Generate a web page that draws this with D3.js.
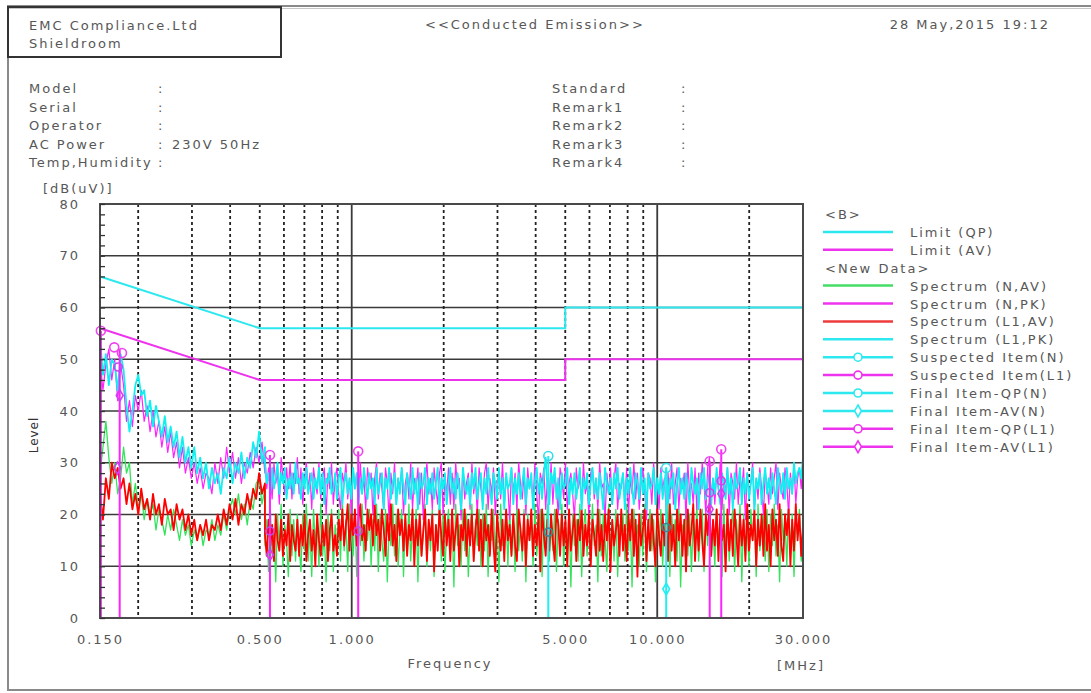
<!DOCTYPE html>
<html><head><meta charset="utf-8">
<script src="https://cdn.jsdelivr.net/npm/d3@7"></script>
<style>
html,body{margin:0;padding:0;background:#fff;}
svg text{font-family:"DejaVu Sans",sans-serif;font-size:13px;fill:#575757;letter-spacing:2px;}
</style></head>
<body>
<svg id="chart" width="1091" height="693"></svg>
<script>
// ---------- data ----------
const fStart = 0.15, fSplit = 0.52, fEnd = 30;
const yTicks = [0,10,20,30,40,50,60,70,80];
const xTickValues = [0.15,0.5,1,5,10,30];
const dashedGrid = [0.2,0.3,0.4,0.5,0.6,0.7,0.8,0.9,2,3,4,5,6,7,8,9,20];
const solidGrid = [1,10];

const limitQP = [[0.15,66],[0.5,56],[5,56],[5,60],[30,60]];
const limitAV = [[0.15,56],[0.5,46],[5,46],[5,50],[30,50]];

// 0.15 - 0.52 MHz
const lowL1PK = [54,47,51,45,50,49,44,51,48,41,36,40,45,47,43,44,39,42,37,41,38,35,39,34,37,33,36,31,35,30,33,29,
33,28,31,27,30,25,29,26,28,24,29,27,31,26,30,28,32,27,31,29,34,31,36,30,33];
const lowNPK = [50,44,49,52,46,50,42,49,45,38,42,37,43,40,44,38,41,36,40,35,38,33,37,32,36,31,34,29,33,28,31,27,
30,26,29,25,28,27,24,30,26,31,27,33,28,32,27,31,26,30,28,32,29,33,30,34,28];
const lowL1AV = [24,19,27,23,30,27,29,25,27,22,26,21,24,20,25,21,23,19,24,20,22,18,23,20,21,17,22,19,21,17,20,16,
19,15,18,16,19,15,18,17,20,17,21,18,22,19,23,18,22,20,24,21,25,23,28,24,26];
const lowNAV = [28,33,38,31,26,30,24,27,33,28,30,22,26,21,24,19,23,20,22,17,21,19,16,20,17,21,18,15,19,16,18,14,
17,15,18,14,17,16,19,15,18,16,20,17,21,23,20,24,19,22,18,23,21,26,27,22,25];

// 0.52 - 30 MHz
const highL1PK = [30,26,28,24,29,25,27,30,24,28,26,29,23,27,25,28,24,30,26,27,
23,28,25,29,24,26,28,23,27,25,29,24,28,22,27,26,29,24,25,28,
23,27,29,22,26,28,24,27,23,29,25,28,22,27,24,29,26,23,28,25,
27,22,29,24,26,28,21,27,25,29,23,26,28,22,27,24,29,25,22,28,
26,23,29,24,27,21,28,25,26,29,22,27,24,28,23,26,29,21,27,25,
28,22,26,29,24,27,23,28,25,21,29,26,24,27,22,28,25,29,23,26,
28,21,27,24,29,25,22,28,26,23,29,24,27,21,28,25,26,29,22,27,
24,28,23,26,29,22,27,25,28,21,26,29,24,27,23,28,31,25,22,28,
26,29,23,27,21,28,25,26,29,22,27,24,28,23,26,29,21,27,25,28,
22,26,29,24,27,23,28,25,21,29,26,24,27,22,28,25,29,23,26,28,
21,27,24,29,25,22,28,26,23,29,24,27,21,28,25,26,29,22,27,24,
28,23,26,29,22,27,25,28,21,26,29,24,27,23,28,25,22,29,26,24,
27,21,28,25,29,23,26,28,22,27,24,29,25,22,28,26,23,29,24,27,
21,28,25,26,29,22,27,24,28,23,26,29,21,27,25,28,22,26,29,24,
27,23,28,25,22,29,26,24,28,23,29,25,27,24,30,26,28,29,27,31];

const highNPK = [31,25,29,27,23,30,26,28,22,31,27,24,29,25,30,23,28,26,31,24,
29,22,27,30,25,28,21,29,26,24,30,23,27,29,20,28,25,30,22,27,
29,24,21,28,26,30,23,27,20,29,25,28,22,30,24,27,21,29,26,28,
20,27,30,23,28,25,21,29,26,19,28,24,30,22,27,25,29,20,26,28,
23,30,21,27,25,29,22,28,19,26,30,24,27,21,29,25,22,28,30,20,
27,24,29,22,28,21,30,25,27,19,29,23,26,28,21,30,24,27,20,29,
25,22,28,30,21,27,24,29,20,26,28,23,30,22,27,25,19,29,24,28,
21,30,26,23,28,20,29,25,27,22,30,24,19,28,26,29,21,27,23,30,
22,28,25,20,29,27,23,30,21,26,28,24,19,29,25,27,22,30,24,26,
20,28,29,23,27,21,30,25,26,19,28,24,29,22,27,30,21,26,25,28,
22,29,20,27,24,30,23,28,21,26,29,25,19,28,27,22,30,24,26,21,
29,25,27,20,28,23,30,22,26,29,21,27,25,28,19,30,24,26,22,29,
21,28,24,30,26,20,29,31,23,27,22,28,25,30,21,27,24,29,20,28,
26,23,30,22,27,25,29,19,28,24,26,30,21,27,23,29,25,20,28,26,
22,29,24,27,30,21,28,25,23,29,26,20,28,24,30,22,27,29,25,30];

const highL1AV = [16,12,19,14,18,11,20,15,13,19,12,17,14,20,11,18,15,13,19,12,
18,14,20,11,16,19,13,17,10,20,15,12,18,14,19,11,17,20,13,16,
12,19,15,21,14,18,22,13,20,16,21,14,19,22,15,18,13,21,17,20,
14,22,16,19,13,21,17,12,20,15,22,14,18,11,21,16,19,13,20,12,
18,15,21,10,19,14,20,12,17,21,11,19,15,20,9,18,13,21,16,12,
20,14,19,11,21,13,17,20,10,18,15,21,12,19,14,20,11,17,21,13,
19,10,20,15,18,12,21,14,9,20,16,13,19,11,21,15,18,12,20,14,
11,21,17,13,20,10,19,15,21,12,18,14,20,9,21,16,12,19,13,20,
15,11,21,18,12,20,14,19,10,21,13,17,20,11,19,15,21,12,18,14,
20,10,19,16,12,21,13,18,11,20,15,21,9,19,14,17,20,12,21,13,
18,11,20,15,21,12,19,8,20,14,17,21,11,19,13,20,15,10,21,16,
12,20,14,19,11,22,13,18,10,21,15,20,12,19,9,21,14,17,22,11,
19,13,21,15,10,20,16,22,12,19,14,21,11,20,15,18,9,21,13,19,
12,21,16,10,20,14,19,11,22,13,18,15,21,10,19,14,20,12,22,13,
18,10,21,15,19,12,22,14,11,20,16,21,10,19,13,22,15,20,12,18];

const highNAV = [14,19,9,21,12,17,7,20,13,22,10,18,15,8,21,12,19,11,20,14,
9,20,13,22,11,17,8,21,14,19,10,22,12,16,7,20,13,21,9,18,
14,21,11,23,13,19,9,22,16,12,21,8,20,14,22,11,18,15,21,10,
19,13,22,9,20,15,11,21,7,18,14,22,12,20,10,17,21,8,19,13,
22,11,18,14,21,7,20,12,16,22,10,19,13,21,8,18,15,22,11,20,
9,17,21,12,19,6,22,14,18,10,21,13,20,8,17,22,11,19,14,21,
10,20,13,22,8,18,15,21,11,19,7,22,14,17,20,10,21,12,19,9,
22,13,18,11,21,7,20,15,19,10,22,12,17,21,8,20,14,22,11,18,
13,21,9,19,15,22,10,18,12,21,6,20,14,19,11,22,8,17,21,12,
19,10,22,14,18,7,21,12,20,15,9,22,13,19,11,21,8,18,16,20,
11,22,13,19,6,21,15,18,10,20,12,22,9,17,21,13,19,7,20,14,
21,10,18,13,22,8,20,15,19,11,21,6,18,14,22,12,20,9,19,13,
22,11,17,21,9,20,14,23,12,18,10,21,15,19,8,22,13,20,11,17,
21,9,19,14,22,7,20,12,18,10,21,15,19,8,22,13,17,20,11,21,
9,20,14,22,12,18,7,21,15,19,10,22,13,20,8,19,16,21,11,14];

// markers: [frequency MHz, level dB(uV)]
const suspectedN  = [[4.4,31.3],[10.7,29.0]];
const suspectedL1 = [[0.151,55.5],[0.167,52.3],[0.177,51.2],[0.54,31.5],[1.05,32.2],[14.85,30.3],[16.2,32.6]];
const finalQPN  = [[4.4,16.6],[10.7,17.5]];
const finalAVN  = [[10.7,5.6]];
const finalQPL1 = [[0.172,48.5],[0.54,16.8],[1.05,16.8],[14.85,24.2],[16.2,26.5]];
const finalAVL1 = [[0.174,43.0],[0.171,29.0],[0.54,12.2],[14.85,21.0],[16.2,24.0]];
const stemsN  = [[4.4,31.3],[10.7,29.0]];
const stemsL1 = [[0.151,55.5],[0.174,52.0],[0.54,31.5],[1.05,32.2],[14.85,30.3],[16.2,32.6]];

const legendItems = [
  {label:"<B>", type:"head"},
  {label:"Limit (QP)", color:"#2ee8f0", type:"line"},
  {label:"Limit (AV)", color:"#ee33ee", type:"line"},
  {label:"<New Data>", type:"head"},
  {label:"Spectrum (N,AV)", color:"#44dd66", type:"line"},
  {label:"Spectrum (N,PK)", color:"#ee33ee", type:"line"},
  {label:"Spectrum (L1,AV)", color:"#ee3b3b", type:"line"},
  {label:"Spectrum (L1,PK)", color:"#2ee8f0", type:"line"},
  {label:"Suspected Item(N)", color:"#2ee8f0", type:"circle"},
  {label:"Suspected Item(L1)", color:"#ee33ee", type:"circle"},
  {label:"Final Item-QP(N)", color:"#2ee8f0", type:"circle"},
  {label:"Final Item-AV(N)", color:"#2ee8f0", type:"diamond"},
  {label:"Final Item-QP(L1)", color:"#ee33ee", type:"circle"},
  {label:"Final Item-AV(L1)", color:"#ee33ee", type:"diamond"}
];

const headerLeft = ["EMC Compliance.Ltd","Shieldroom"];
const headerTitle = "<<Conducted Emission>>";
const headerDate = "28 May,2015 19:12";
const infoLeft = [["Model",""],["Serial",""],["Operator",""],["AC Power","230V 50Hz"],["Temp,Humidity",""]];
const infoRight = ["Standard","Remark1","Remark2","Remark3","Remark4"];

// ---------- drawing ----------
const svg = d3.select("#chart");
const x = d3.scaleLog().domain([fStart,fEnd]).range([100,803]);
const y = d3.scaleLinear().domain([0,80]).range([618,204]);

// page frame
svg.append("rect").attr("x",8).attr("y",6).attr("width",1100).attr("height",684)
  .attr("fill","none").attr("stroke","#8a8a8a").attr("stroke-width",2);
svg.append("line").attr("x1",8).attr("x2",1091).attr("y1",8.5).attr("y2",8.5).attr("stroke","#c8c8c8").attr("stroke-width",1);
svg.append("rect").attr("x",8).attr("y",7).attr("width",273).attr("height",50)
  .attr("fill","none").attr("stroke","#333").attr("stroke-width",2);

// header texts
svg.selectAll("text.hl").data(headerLeft).join("text").attr("class","hl")
  .attr("x",29).attr("y",(d,i)=>30+i*18).text(d=>d);
svg.append("text").attr("x",425).attr("y",29).text(headerTitle);
svg.append("text").attr("x",1050).attr("y",29).attr("text-anchor","end").text(headerDate);

const rowY = i => 93 + i*18.6;
const il = svg.append("g");
infoLeft.forEach((r,i)=>{
  il.append("text").attr("x",29).attr("y",rowY(i)).text(r[0]);
  il.append("text").attr("x",158).attr("y",rowY(i)).text(":");
  if(r[1]) il.append("text").attr("x",172).attr("y",rowY(i)).text(r[1]);
});
infoRight.forEach((r,i)=>{
  il.append("text").attr("x",552).attr("y",rowY(i)).text(r);
  il.append("text").attr("x",681).attr("y",rowY(i)).text(":");
});

// grid
const plot = svg.append("g");
plot.selectAll("line.hg").data(yTicks.filter(v=>v>0&&v<80)).join("line")
  .attr("x1",100).attr("x2",803).attr("y1",d=>y(d)).attr("y2",d=>y(d))
  .attr("stroke","#3a3a3a").attr("stroke-width",1.6);
plot.selectAll("line.vd").data(dashedGrid).join("line")
  .attr("x1",d=>x(d)).attr("x2",d=>x(d)).attr("y1",204).attr("y2",618)
  .attr("stroke","#222").attr("stroke-width",1.8).attr("stroke-dasharray","3,3");
plot.selectAll("line.vs").data(solidGrid).join("line")
  .attr("x1",d=>x(d)).attr("x2",d=>x(d)).attr("y1",204).attr("y2",618)
  .attr("stroke","#3a3a3a").attr("stroke-width",1.8);

// spectra: each trace = low segment + high segment, sampled evenly on the log axis
const grid = (n,a,b) => d3.range(n).map(i => a*Math.pow(b/a, i/(n-1)));
const line = d3.line().x(d=>x(d[0])).y(d=>y(d[1]));
function drawSpectrum(low,high,color,w){
  const fl = grid(low.length,fStart,fSplit), fh = grid(high.length,fSplit,fEnd);
  const pts = low.map((v,i)=>[fl[i],v]).concat(high.map((v,i)=>[fh[i],v]));
  plot.append("path").datum(pts).attr("d",line).attr("fill","none")
    .attr("stroke",color).attr("stroke-width",w).attr("stroke-linejoin","round");
}
drawSpectrum(lowNAV,highNAV,"#33e35a",1.3);
drawSpectrum(lowNPK,highNPK,"#ff22ff",1.2);
drawSpectrum(lowL1AV,highL1AV,"#ff0000",1.8);
drawSpectrum(lowL1PK,highL1PK,"#11f0f0",1.8);

// limits
plot.append("path").datum(limitQP).attr("d",line).attr("fill","none").attr("stroke","#2ee8f0").attr("stroke-width",2);
plot.append("path").datum(limitAV).attr("d",line).attr("fill","none").attr("stroke","#ee33ee").attr("stroke-width",2);

// stems and markers
function stems(data,color){
  plot.selectAll(null).data(data).join("line")
    .attr("x1",d=>x(d[0])).attr("x2",d=>x(d[0])).attr("y1",y(0)).attr("y2",d=>y(d[1]))
    .attr("stroke",color).attr("stroke-width",2);
}
stems(stemsL1,"#ff22ff");
stems(stemsN,"#22eef0");
function circles(data,color,r){
  plot.selectAll(null).data(data).join("circle")
    .attr("cx",d=>x(d[0])).attr("cy",d=>y(d[1])).attr("r",r)
    .attr("fill","none").attr("stroke",color).attr("stroke-width",1.6);
}
const diamond = d3.symbol().type(d3.symbolDiamond).size(40);
function diamonds(data,color){
  plot.selectAll(null).data(data).join("path")
    .attr("transform",d=>`translate(${x(d[0])},${y(d[1])})`).attr("d",diamond)
    .attr("fill","none").attr("stroke",color).attr("stroke-width",1.6);
}
circles(finalQPL1,"#cc44ee",4);
diamonds(finalAVL1,"#cc44ee");
circles(finalQPN,"#3a8a9a",4);
diamonds(finalAVN,"#22eef0");
circles(suspectedL1,"#ee44ee",4.5);
circles(suspectedN,"#33dde8",4.5);

// plot border
svg.append("rect").attr("x",100).attr("y",204).attr("width",703).attr("height",414)
  .attr("fill","none").attr("stroke","#4a4a4a").attr("stroke-width",2);

// axes
const yAxis = svg.append("g").attr("transform","translate(100,0)")
  .call(d3.axisLeft(y).tickValues(yTicks).tickSize(0).tickPadding(20));
yAxis.select(".domain").remove();
const yMinor = svg.append("g").attr("transform","translate(100,0)")
  .call(d3.axisLeft(y).tickValues(d3.range(0,81,2)).tickSize(-5).tickFormat(""));
yMinor.select(".domain").remove();
yMinor.selectAll("line").attr("stroke","#333").attr("stroke-width",1.3);

const xAxis = svg.append("g").attr("transform","translate(0,618)")
  .call(d3.axisBottom(x).tickValues(xTickValues).tickSize(0).tickPadding(17).tickFormat(d3.format(".3f")));
xAxis.select(".domain").remove();
svg.selectAll(".tick text").attr("font-family",null).attr("font-size",null).attr("fill",null);

svg.append("text").attr("x",43).attr("y",193).text("[dB(uV)]");
svg.append("text").attr("transform","translate(38,435) rotate(-90)").attr("text-anchor","middle")
  .style("font-size","12px").style("letter-spacing","1px").style("fill","#333").text("Level");
svg.append("text").attr("x",450).attr("y",668).attr("text-anchor","middle").text("Frequency");
svg.append("text").attr("x",777).attr("y",670).text("[MHz]");

// legend
const lg = svg.append("g");
legendItems.forEach((it,k)=>{
  const cy = 214 + 17.9*k;
  if(it.type==="head"){
    lg.append("text").attr("x",825).attr("y",cy+5).text(it.label);
    return;
  }
  lg.append("line").attr("x1",823).attr("x2",893).attr("y1",cy).attr("y2",cy)
    .attr("stroke",it.color).attr("stroke-width",2.5);
  if(it.type==="circle"){
    lg.append("circle").attr("cx",858).attr("cy",cy).attr("r",4).attr("fill","#fff").attr("stroke",it.color).attr("stroke-width",1.6);
  } else if(it.type==="diamond"){
    lg.append("path").attr("transform",`translate(858,${cy})`).attr("d",diamond).attr("fill","#fff").attr("stroke",it.color).attr("stroke-width",1.6);
  }
  lg.append("text").attr("x",910).attr("y",cy+5).text(it.label);
});
</script>
</body></html>
